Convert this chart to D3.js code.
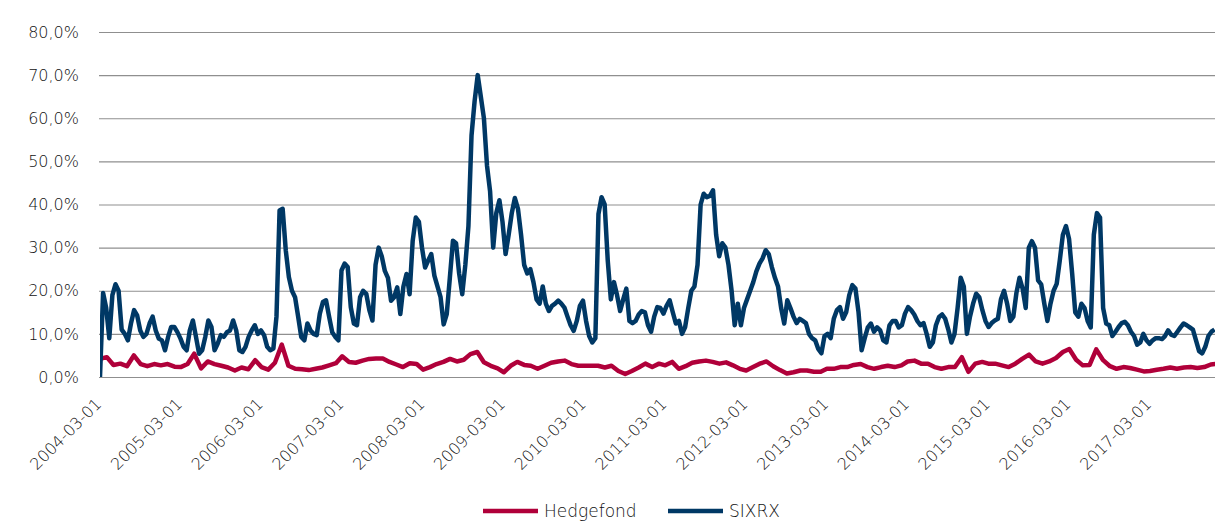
<!DOCTYPE html>
<html>
<head>
<meta charset="utf-8">
<script src="https://cdn.jsdelivr.net/npm/d3@7"></script>
<style>
body { margin: 0; background: #fff; }
text { font-family: "DejaVu Sans", sans-serif; font-weight: 300; fill: #111; }
</style>
</head>
<body>
<div id="chart"></div>
<script>
// series names (legend order) and tick values
const seriesNames = ["Hedgefond", "SIXRX"]
const yTicks = [0, 10, 20, 30, 40, 50, 60, 70, 80]
const xTickDates = ["2004-03-01", "2005-03-01", "2006-03-01", "2007-03-01", "2008-03-01",
    "2009-03-01", "2010-03-01", "2011-03-01", "2012-03-01", "2013-03-01",
    "2014-03-01", "2015-03-01", "2016-03-01", "2017-03-01"]

// SIXRX, one value every two weeks from 2004-03-01 (%)
const sixrxStart = "2004-03-01"
const sixrx = [
    0, 19.5, 16, 9, 19, 21.5, 20, 11, 10, 8.5,
    12.4, 15.5, 14.3, 10.8, 9.3, 10, 12.4, 14, 10.8, 8.9,
    8.5, 6.2, 9.3, 11.6, 11.6, 10.4, 8.9, 7, 6.2, 10.8,
    13.1, 9.3, 5.4, 6.2, 9.3, 13.1, 11.6, 6.2, 7.7, 9.7,
    9.3, 10.4, 10.8, 13.1, 10.8, 6.2, 5.8, 7, 9.3, 10.8,
    12, 10, 10.8, 9.7, 7, 6.2, 6.6, 14, 38.6, 39,
    29.4, 23.2, 20, 18.5, 14, 9.3, 8.5, 12.4, 10.8, 10,
    9.7, 14.7, 17.4, 17.8, 14, 10.4, 9.3, 8.5, 24.7, 26.3,
    25.5, 16.2, 12.4, 12, 18.5, 20, 19.3, 15.5, 13.1, 26,
    30, 28, 24.6, 23, 17.7, 18.5, 20.8, 14.6, 21, 23.9,
    19.2, 31.6, 37, 36, 30, 25.4, 27, 28.5, 23.5, 21,
    18.5, 12.2, 14.6, 23, 31.6, 31, 24, 19.2, 26, 35,
    56, 64, 70, 65, 60, 49, 43, 30, 38, 41,
    36, 28.5, 33, 38, 41.5, 39, 33, 26, 24, 25,
    22, 18, 17, 21, 17, 15.3, 16.5, 17, 17.7, 17,
    16.1, 14, 12, 10.7, 13, 16.5, 17.7, 13, 9.5, 8,
    9, 37.8, 41.7, 40, 27, 18, 22, 19, 15.3, 18,
    20.5, 13, 12.5, 13, 14.5, 15.3, 15, 12, 10.5, 14,
    16.2, 16, 14.7, 16.5, 17.8, 15, 12.4, 13, 10, 11.6,
    16, 20, 21, 26, 40, 42.5, 41.7, 42, 43.3, 33,
    28, 31, 30, 26, 20, 12, 17, 12, 16, 18,
    20, 22, 24.5, 26.3, 27.5, 29.4, 28.5, 25.5, 23, 21,
    16, 12.4, 17.8, 16, 14, 12.5, 13.5, 13, 12.5, 10,
    9, 8.5, 6.5, 5.5, 9.5, 10, 9, 13.5, 15.5, 16.2,
    13.5, 15, 19, 21.3, 20.5, 15, 6.2, 9, 11.5, 12.4,
    10.5, 11.5, 10.8, 8.5, 8, 12, 13, 13, 11.5, 12,
    14.7, 16.2, 15.5, 14.5, 13, 12, 12.5, 10, 7, 8,
    12, 13.9, 14.5, 13.5, 11, 8, 10, 16, 23, 21,
    10, 14, 17, 19.3, 18.5, 15.5, 13, 11.6, 12.5, 13.1,
    13.5, 18, 20, 17, 13, 14, 19.5, 23, 20.5, 16,
    30, 31.5, 30, 22.4, 21.5, 17, 13, 17, 20, 21.6,
    27, 33, 35, 32, 24, 15, 14, 17, 16, 13,
    11.5, 33, 38, 37, 16, 12.4, 12, 9.5, 10.5, 11.6,
    12.5, 12.8, 12, 10.5, 9.5, 7.5, 8, 10, 8.5, 7.7,
    8.5, 9, 9, 8.8, 9.5, 10.8, 9.8, 9.5, 10.5, 11.5,
    12.4, 12, 11.5, 11, 8.5, 6, 5.5, 7, 9.5, 10.5, 11
]

// Hedgefond, one value per month from 2004-03-01 (%)
const hedgeStart = "2004-03-01"
const hedgefond = [
    4.2, 4.6, 2.8, 3.1, 2.5, 5, 3, 2.5, 3, 2.7,
    3, 2.4, 2.3, 3, 5.4, 2, 3.6, 3, 2.6, 2.2,
    1.5, 2.2, 1.8, 3.9, 2.3, 1.7, 3.3, 7.5, 2.6, 1.9,
    1.8, 1.6, 1.9, 2.2, 2.7, 3.2, 4.8, 3.5, 3.3, 3.8,
    4.2, 4.3, 4.3, 3.5, 2.9, 2.3, 3.2, 3, 1.7, 2.3,
    3, 3.5, 4.2, 3.6, 4, 5.3, 5.8, 3.4, 2.6, 2,
    1.1, 2.6, 3.5, 2.8, 2.6, 1.9, 2.6, 3.3, 3.6, 3.8,
    3, 2.6, 2.6, 2.6, 2.6, 2.2, 2.6, 1.4, 0.7, 1.4,
    2.2, 3.1, 2.3, 3.1, 2.7, 3.5, 1.9, 2.5, 3.3, 3.6,
    3.8, 3.5, 3.1, 3.4, 2.7, 1.9, 1.5, 2.3, 3.1, 3.6,
    2.5, 1.6, 0.8, 1.1, 1.5, 1.5, 1.2, 1.2, 1.9, 1.9,
    2.3, 2.3, 2.8, 3, 2.3, 1.9, 2.3, 2.6, 2.3, 2.7,
    3.6, 3.8, 3.1, 3.1, 2.3, 1.9, 2.3, 2.3, 4.6, 1.2,
    3.1, 3.5, 3.1, 3.1, 2.7, 2.3, 3.1, 4.2, 5.2, 3.6,
    3.1, 3.6, 4.4, 5.8, 6.5, 4, 2.7, 2.8, 6.4, 3.9,
    2.5, 1.9, 2.3, 2.1, 1.7, 1.3, 1.4, 1.7, 1.9, 2.2,
    1.9, 2.2, 2.3, 2.1, 2.3, 2.9, 3.1
]

const colors = {Hedgefond: "#b0003a", SIXRX: "#003865"}

const width = 1215, height = 521
const margin = {left: 100, right: 0, top: 32, bottom: 145}
const parse = d3.timeParse("%Y-%m-%d")

const sixrxData = sixrx.map((v, i) => ({date: d3.timeDay.offset(parse(sixrxStart), 14 * i), value: v}))
const hedgeData = hedgefond.map((v, i) => ({date: d3.timeMonth.offset(parse(hedgeStart), i), value: v}))
const series = {Hedgefond: hedgeData, SIXRX: sixrxData}

// first and last year tick pin the time axis
const x = d3.scaleTime()
    .domain([parse(xTickDates[0]), parse(xTickDates[xTickDates.length - 1])])
    .range([margin.left, 1150])
const y = d3.scaleLinear().domain([0, 80]).range([height - margin.bottom + 1, margin.top])

const svg = d3.select('#chart').append("svg")
    .attr("width", width)
    .attr("height", height)

svg.append("clipPath").attr("id", "plot")
    .append("rect")
    .attr("x", margin.left)
    .attr("y", 0)
    .attr("width", width - margin.left)
    .attr("height", height - 100)

// gridlines + y labels
const yAxis = svg.append("g")
    .attr("transform", `translate(${margin.left - 1}, 0)`)
    .call(d3.axisRight(y)
        .tickValues(yTicks)
        .tickSize(width - margin.left + 1)
        .tickFormat(d => d.toFixed(1).replace(".", ",") + "%"))
yAxis.select(".domain").remove()
yAxis.selectAll(".tick line")
    .attr("stroke", "#8f8f8f")
    .attr("stroke-width", 1.2)
yAxis.selectAll(".tick text")
    .attr("x", -20)
    .attr("text-anchor", "end")
    .attr("font-size", 16)

// x labels, rotated
const xAxis = svg.append("g")
    .attr("transform", `translate(0, ${y(0)})`)
    .call(d3.axisBottom(x)
        .tickValues(xTickDates.map(parse))
        .tickSize(0)
        .tickFormat(d3.timeFormat("%Y-%m-%d")))
xAxis.select(".domain").remove()
xAxis.selectAll(".tick text")
    .attr("font-size", 16)
    .attr("text-anchor", "end")
    .attr("dy", 0)
    .attr("y", 0)
    .attr("transform", "translate(2, 28) rotate(-45)")

const line = d3.line()
    .x(d => x(d.date))
    .y(d => y(d.value))

svg.append("g")
    .attr("clip-path", "url(#plot)")
    .selectAll("path")
    .data(seriesNames)
    .join("path")
    .attr("fill", "none")
    .attr("stroke", d => colors[d])
    .attr("stroke-width", 4.5)
    .attr("stroke-linejoin", "round")
    .attr("d", d => line(series[d]))

// legend
const legendX = [483, 668]
const legend = svg.append("g")
    .selectAll("g")
    .data(seriesNames)
    .join("g")
    .attr("transform", (d, i) => `translate(${legendX[i]}, 511)`)
legend.append("line")
    .attr("x1", 0).attr("x2", 55)
    .attr("stroke", d => colors[d])
    .attr("stroke-width", 4.5)
legend.append("text")
    .attr("x", 61)
    .attr("dy", "0.35em")
    .attr("font-size", 17)
    .text(d => d)
</script>
</body>
</html>
